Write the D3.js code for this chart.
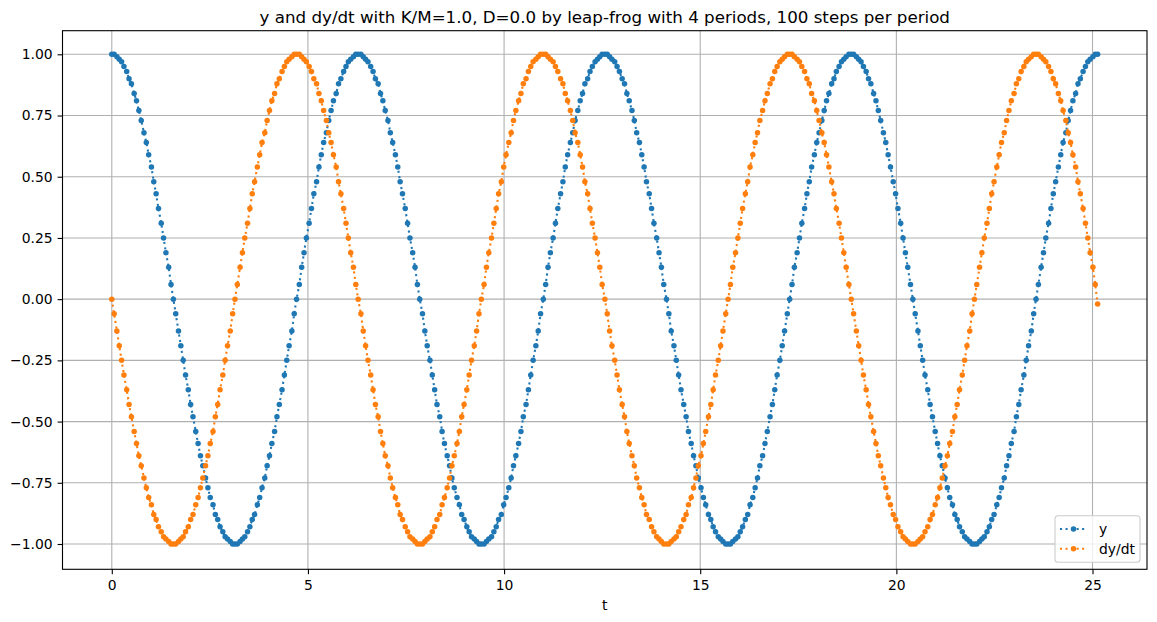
<!DOCTYPE html>
<html>
<head>
<meta charset="utf-8">
<script src="https://cdn.jsdelivr.net/npm/d3@7"></script>
<style>
  body { margin: 0; background: #fff; }
  svg { display: block; font-family: "DejaVu Sans", sans-serif; }
</style>
</head>
<body>
<div id="chart"></div>
<script>
// time points, 100 steps per period, 4 periods
var tValues = [
0.00,0.06,0.13,0.19,0.25,0.31,0.38,0.44,0.50,0.57,0.63,0.69,0.75,0.82,0.88,0.94,1.01,1.07,1.13,1.19,1.26,1.32,1.38,1.45,1.51,
1.57,1.63,1.70,1.76,1.82,1.88,1.95,2.01,2.07,2.14,2.20,2.26,2.32,2.39,2.45,2.51,2.58,2.64,2.70,2.76,2.83,2.89,2.95,3.02,3.08,
3.14,3.20,3.27,3.33,3.39,3.46,3.52,3.58,3.64,3.71,3.77,3.83,3.90,3.96,4.02,4.08,4.15,4.21,4.27,4.34,4.40,4.46,4.52,4.59,4.65,
4.71,4.78,4.84,4.90,4.96,5.03,5.09,5.15,5.22,5.28,5.34,5.40,5.47,5.53,5.59,5.65,5.72,5.78,5.84,5.91,5.97,6.03,6.09,6.16,6.22,
6.28,6.35,6.41,6.47,6.53,6.60,6.66,6.72,6.79,6.85,6.91,6.97,7.04,7.10,7.16,7.23,7.29,7.35,7.41,7.48,7.54,7.60,7.67,7.73,7.79,
7.85,7.92,7.98,8.04,8.11,8.17,8.23,8.29,8.36,8.42,8.48,8.55,8.61,8.67,8.73,8.80,8.86,8.92,8.98,9.05,9.11,9.17,9.24,9.30,9.36,
9.42,9.49,9.55,9.61,9.68,9.74,9.80,9.86,9.93,9.99,10.05,10.12,10.18,10.24,10.30,10.37,10.43,10.49,10.56,10.62,10.68,10.74,10.81,10.87,10.93,
11.00,11.06,11.12,11.18,11.25,11.31,11.37,11.44,11.50,11.56,11.62,11.69,11.75,11.81,11.88,11.94,12.00,12.06,12.13,12.19,12.25,12.32,12.38,12.44,12.50,
12.57,12.63,12.69,12.75,12.82,12.88,12.94,13.01,13.07,13.13,13.19,13.26,13.32,13.38,13.45,13.51,13.57,13.63,13.70,13.76,13.82,13.89,13.95,14.01,14.07,
14.14,14.20,14.26,14.33,14.39,14.45,14.51,14.58,14.64,14.70,14.77,14.83,14.89,14.95,15.02,15.08,15.14,15.21,15.27,15.33,15.39,15.46,15.52,15.58,15.65,
15.71,15.77,15.83,15.90,15.96,16.02,16.08,16.15,16.21,16.27,16.34,16.40,16.46,16.52,16.59,16.65,16.71,16.78,16.84,16.90,16.96,17.03,17.09,17.15,17.22,
17.28,17.34,17.40,17.47,17.53,17.59,17.66,17.72,17.78,17.84,17.91,17.97,18.03,18.10,18.16,18.22,18.28,18.35,18.41,18.47,18.54,18.60,18.66,18.72,18.79,
18.85,18.91,18.98,19.04,19.10,19.16,19.23,19.29,19.35,19.42,19.48,19.54,19.60,19.67,19.73,19.79,19.85,19.92,19.98,20.04,20.11,20.17,20.23,20.29,20.36,
20.42,20.48,20.55,20.61,20.67,20.73,20.80,20.86,20.92,20.99,21.05,21.11,21.17,21.24,21.30,21.36,21.43,21.49,21.55,21.61,21.68,21.74,21.80,21.87,21.93,
21.99,22.05,22.12,22.18,22.24,22.31,22.37,22.43,22.49,22.56,22.62,22.68,22.75,22.81,22.87,22.93,23.00,23.06,23.12,23.18,23.25,23.31,23.37,23.44,23.50,
23.56,23.62,23.69,23.75,23.81,23.88,23.94,24.00,24.06,24.13,24.19,24.25,24.32,24.38,24.44,24.50,24.57,24.63,24.69,24.76,24.82,24.88,24.94,25.01,25.07,
25.13
];

// y (position)
var yValues = [
1.00,1.00,0.99,0.98,0.97,0.95,0.93,0.90,0.88,0.84,0.81,0.77,0.73,0.68,0.64,0.59,0.54,0.48,0.43,0.37,0.31,0.25,0.19,0.13,0.06,
0.00,-0.06,-0.13,-0.19,-0.25,-0.31,-0.37,-0.43,-0.48,-0.54,-0.59,-0.64,-0.68,-0.73,-0.77,-0.81,-0.84,-0.88,-0.90,-0.93,-0.95,-0.97,-0.98,-0.99,-1.00,
-1.00,-1.00,-0.99,-0.98,-0.97,-0.95,-0.93,-0.90,-0.88,-0.84,-0.81,-0.77,-0.73,-0.68,-0.64,-0.59,-0.54,-0.48,-0.43,-0.37,-0.31,-0.25,-0.19,-0.13,-0.06,
0.00,0.06,0.13,0.19,0.25,0.31,0.37,0.43,0.48,0.54,0.59,0.64,0.68,0.73,0.77,0.81,0.84,0.88,0.90,0.93,0.95,0.97,0.98,0.99,1.00,
1.00,1.00,0.99,0.98,0.97,0.95,0.93,0.90,0.88,0.84,0.81,0.77,0.73,0.68,0.64,0.59,0.54,0.48,0.43,0.37,0.31,0.25,0.19,0.13,0.06,
0.00,-0.06,-0.13,-0.19,-0.25,-0.31,-0.37,-0.43,-0.48,-0.54,-0.59,-0.64,-0.68,-0.73,-0.77,-0.81,-0.84,-0.88,-0.90,-0.93,-0.95,-0.97,-0.98,-0.99,-1.00,
-1.00,-1.00,-0.99,-0.98,-0.97,-0.95,-0.93,-0.90,-0.88,-0.84,-0.81,-0.77,-0.73,-0.68,-0.64,-0.59,-0.54,-0.48,-0.43,-0.37,-0.31,-0.25,-0.19,-0.13,-0.06,
0.00,0.06,0.13,0.19,0.25,0.31,0.37,0.43,0.48,0.54,0.59,0.64,0.68,0.73,0.77,0.81,0.84,0.88,0.90,0.93,0.95,0.97,0.98,0.99,1.00,
1.00,1.00,0.99,0.98,0.97,0.95,0.93,0.90,0.88,0.84,0.81,0.77,0.73,0.68,0.64,0.59,0.54,0.48,0.43,0.37,0.31,0.25,0.19,0.13,0.06,
0.00,-0.06,-0.13,-0.19,-0.25,-0.31,-0.37,-0.43,-0.48,-0.54,-0.59,-0.64,-0.68,-0.73,-0.77,-0.81,-0.84,-0.88,-0.90,-0.93,-0.95,-0.97,-0.98,-0.99,-1.00,
-1.00,-1.00,-0.99,-0.98,-0.97,-0.95,-0.93,-0.90,-0.88,-0.84,-0.81,-0.77,-0.73,-0.68,-0.64,-0.59,-0.54,-0.48,-0.43,-0.37,-0.31,-0.25,-0.19,-0.13,-0.06,
0.00,0.06,0.13,0.19,0.25,0.31,0.37,0.43,0.48,0.54,0.59,0.64,0.68,0.73,0.77,0.81,0.84,0.88,0.90,0.93,0.95,0.97,0.98,0.99,1.00,
1.00,1.00,0.99,0.98,0.97,0.95,0.93,0.90,0.88,0.84,0.81,0.77,0.73,0.68,0.64,0.59,0.54,0.48,0.43,0.37,0.31,0.25,0.19,0.13,0.06,
0.00,-0.06,-0.13,-0.19,-0.25,-0.31,-0.37,-0.43,-0.48,-0.54,-0.59,-0.64,-0.68,-0.73,-0.77,-0.81,-0.84,-0.88,-0.90,-0.93,-0.95,-0.97,-0.98,-0.99,-1.00,
-1.00,-1.00,-0.99,-0.98,-0.97,-0.95,-0.93,-0.90,-0.88,-0.84,-0.81,-0.77,-0.73,-0.68,-0.64,-0.59,-0.54,-0.48,-0.43,-0.37,-0.31,-0.25,-0.19,-0.13,-0.06,
0.00,0.06,0.13,0.19,0.25,0.31,0.37,0.43,0.48,0.54,0.59,0.64,0.68,0.73,0.77,0.81,0.84,0.88,0.90,0.93,0.95,0.97,0.98,0.99,1.00,
1.00
];

// dy/dt (velocity)
var dyValues = [
0.00,-0.06,-0.13,-0.19,-0.25,-0.31,-0.37,-0.43,-0.48,-0.54,-0.59,-0.64,-0.68,-0.73,-0.77,-0.81,-0.84,-0.88,-0.90,-0.93,-0.95,-0.97,-0.98,-0.99,-1.00,
-1.00,-1.00,-0.99,-0.98,-0.97,-0.95,-0.93,-0.90,-0.88,-0.84,-0.81,-0.77,-0.73,-0.68,-0.64,-0.59,-0.54,-0.48,-0.43,-0.37,-0.31,-0.25,-0.19,-0.13,-0.06,
0.00,0.06,0.13,0.19,0.25,0.31,0.37,0.43,0.48,0.54,0.59,0.64,0.68,0.73,0.77,0.81,0.84,0.88,0.90,0.93,0.95,0.97,0.98,0.99,1.00,
1.00,1.00,0.99,0.98,0.97,0.95,0.93,0.90,0.88,0.84,0.81,0.77,0.73,0.68,0.64,0.59,0.54,0.48,0.43,0.37,0.31,0.25,0.19,0.13,0.06,
0.00,-0.06,-0.13,-0.19,-0.25,-0.31,-0.37,-0.43,-0.48,-0.54,-0.59,-0.64,-0.68,-0.73,-0.77,-0.81,-0.84,-0.88,-0.90,-0.93,-0.95,-0.97,-0.98,-0.99,-1.00,
-1.00,-1.00,-0.99,-0.98,-0.97,-0.95,-0.93,-0.90,-0.88,-0.84,-0.81,-0.77,-0.73,-0.68,-0.64,-0.59,-0.54,-0.48,-0.43,-0.37,-0.31,-0.25,-0.19,-0.13,-0.06,
0.00,0.06,0.13,0.19,0.25,0.31,0.37,0.43,0.48,0.54,0.59,0.64,0.68,0.73,0.77,0.81,0.84,0.88,0.90,0.93,0.95,0.97,0.98,0.99,1.00,
1.00,1.00,0.99,0.98,0.97,0.95,0.93,0.90,0.88,0.84,0.81,0.77,0.73,0.68,0.64,0.59,0.54,0.48,0.43,0.37,0.31,0.25,0.19,0.13,0.06,
0.00,-0.06,-0.13,-0.19,-0.25,-0.31,-0.37,-0.43,-0.48,-0.54,-0.59,-0.64,-0.68,-0.73,-0.77,-0.81,-0.84,-0.88,-0.90,-0.93,-0.95,-0.97,-0.98,-0.99,-1.00,
-1.00,-1.00,-0.99,-0.98,-0.97,-0.95,-0.93,-0.90,-0.88,-0.84,-0.81,-0.77,-0.73,-0.68,-0.64,-0.59,-0.54,-0.48,-0.43,-0.37,-0.31,-0.25,-0.19,-0.13,-0.06,
0.00,0.06,0.13,0.19,0.25,0.31,0.37,0.43,0.48,0.54,0.59,0.64,0.68,0.73,0.77,0.81,0.84,0.88,0.90,0.93,0.95,0.97,0.98,0.99,1.00,
1.00,1.00,0.99,0.98,0.97,0.95,0.93,0.90,0.88,0.84,0.81,0.77,0.73,0.68,0.64,0.59,0.54,0.48,0.43,0.37,0.31,0.25,0.19,0.13,0.06,
0.00,-0.06,-0.13,-0.19,-0.25,-0.31,-0.37,-0.43,-0.48,-0.54,-0.59,-0.64,-0.68,-0.73,-0.77,-0.81,-0.84,-0.88,-0.90,-0.93,-0.95,-0.97,-0.98,-0.99,-1.00,
-1.00,-1.00,-0.99,-0.98,-0.97,-0.95,-0.93,-0.90,-0.88,-0.84,-0.81,-0.77,-0.73,-0.68,-0.64,-0.59,-0.54,-0.48,-0.43,-0.37,-0.31,-0.25,-0.19,-0.13,-0.06,
0.00,0.06,0.13,0.19,0.25,0.31,0.37,0.43,0.48,0.54,0.59,0.64,0.68,0.73,0.77,0.81,0.84,0.88,0.90,0.93,0.95,0.97,0.98,0.99,1.00,
1.00,1.00,0.99,0.98,0.97,0.95,0.93,0.90,0.88,0.84,0.81,0.77,0.73,0.68,0.64,0.59,0.54,0.48,0.43,0.37,0.31,0.25,0.19,0.13,0.06,
-0.02
];

var xTicks = [0, 5, 10, 15, 20, 25];
var yTicks = [-1.00, -0.75, -0.50, -0.25, 0.00, 0.25, 0.50, 0.75, 1.00];
var seriesNames = ["y", "dy/dt"];
var seriesColors = ["#1f77b4", "#ff7f0e"];
var titleText = "y and dy/dt with K/M=1.0, D=0.0 by leap-frog with 4 periods, 100 steps per period";

var W = 1157, H = 622;
var plotL = 62.5, plotR = 1147, plotT = 30.7, plotB = 569.3;
var fontSize = "13.9px";

var svg = d3.select("#chart").append("svg")
    .attr("width", W)
    .attr("height", H);

var x = d3.scaleLinear().domain([-1.2566, 26.389]).range([plotL, plotR]);
var y = d3.scaleLinear().domain([-1.1033, 1.0964]).range([plotB, plotT]);

// grid
var grid = svg.append("g").attr("class", "grid");
grid.selectAll(".gx").data(xTicks).enter().append("line")
    .attr("x1", function(d){ return x(d); })
    .attr("x2", function(d){ return x(d); })
    .attr("y1", plotT).attr("y2", plotB)
    .attr("stroke", "#b0b0b0").attr("stroke-width", 1.1);
grid.selectAll(".gy").data(yTicks).enter().append("line")
    .attr("y1", function(d){ return y(d); })
    .attr("y2", function(d){ return y(d); })
    .attr("x1", plotL).attr("x2", plotR)
    .attr("stroke", "#b0b0b0").attr("stroke-width", 1.1);

// axes
var xAxis = svg.append("g")
    .attr("transform", "translate(0," + plotB + ")")
    .call(d3.axisBottom(x).tickValues(xTicks).tickSize(4.9).tickPadding(6.3).tickFormat(d3.format("d")));
var yAxis = svg.append("g")
    .attr("transform", "translate(" + plotL + ",0)")
    .call(d3.axisLeft(y).tickValues(yTicks).tickSize(4.9).tickPadding(5).tickFormat(d3.format(".2f")));
[xAxis, yAxis].forEach(function(a){
    a.select(".domain").remove();
    a.selectAll("line").attr("stroke", "#000").attr("stroke-width", 1.1);
    a.selectAll("text").attr("fill", "#000")
        .style("font-family", "DejaVu Sans, sans-serif").style("font-size", fontSize);
});

// series
var tables = [yValues, dyValues].map(function(vals){
    return tValues.map(function(t, i){ return {t: t, v: vals[i]}; });
});

var line = d3.line()
    .x(function(d){ return x(d.t); })
    .y(function(d){ return y(d.v); });

var plot = svg.append("g");
tables.forEach(function(data, s){
    plot.append("path")
        .datum(data)
        .attr("d", line)
        .attr("fill", "none")
        .attr("stroke", seriesColors[s])
        .attr("stroke-width", 2.08)
        .attr("stroke-dasharray", "2.08,3.44");
    plot.append("g").selectAll("circle")
        .data(data).enter().append("circle")
        .attr("cx", function(d){ return x(d.t); })
        .attr("cy", function(d){ return y(d.v); })
        .attr("r", 2.75)
        .attr("fill", seriesColors[s]);
});

// frame
svg.append("rect")
    .attr("x", plotL).attr("y", plotT)
    .attr("width", plotR - plotL).attr("height", plotB - plotT)
    .attr("fill", "none").attr("stroke", "#000").attr("stroke-width", 1.1);

// title and axis label
svg.append("text")
    .attr("x", (plotL + plotR) / 2).attr("y", 22.5)
    .attr("text-anchor", "middle")
    .style("font-size", "16.7px")
    .text(titleText);
svg.append("text")
    .attr("x", (plotL + plotR) / 2).attr("y", 610)
    .attr("text-anchor", "middle")
    .style("font-size", fontSize)
    .text("t");

// legend
var lg = svg.append("g").attr("transform", "translate(1055,515.7)");
lg.append("rect")
    .attr("width", 85).attr("height", 46.6)
    .attr("rx", 3).attr("ry", 3)
    .attr("fill", "#fff").attr("fill-opacity", 0.8)
    .attr("stroke", "#cccccc").attr("stroke-width", 1.1);
seriesNames.forEach(function(name, i){
    var row = lg.append("g").attr("transform", "translate(0," + (13.3 + i * 19.7) + ")");
    row.append("line")
        .attr("x1", 5).attr("x2", 32)
        .attr("stroke", seriesColors[i]).attr("stroke-width", 2.08)
        .attr("stroke-dasharray", "2.08,3.44");
    row.append("circle").attr("cx", 18.5).attr("cy", 0).attr("r", 2.75).attr("fill", seriesColors[i]);
    row.append("text")
        .attr("x", 44).attr("y", 0).attr("dy", "0.35em")
        .style("font-size", fontSize)
        .text(name);
});
</script>
</body>
</html>
